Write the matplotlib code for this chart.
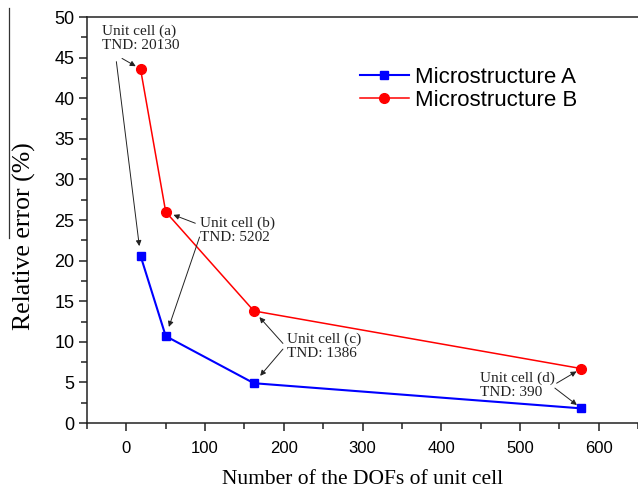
import numpy as np
import matplotlib
matplotlib.use("Agg")
import matplotlib.pyplot as plt
from matplotlib.ticker import MultipleLocator
from matplotlib.lines import Line2D

# data
dofs = [18, 50, 162, 578]
err_a = [20.6, 10.7, 4.9, 1.8]
err_b = [43.6, 26.0, 13.8, 6.7]

cell_names = ["(a)", "(b)", "(c)", "(d)"]
tnd = [20130, 5202, 1386, 390]
# where each label block sits (left x, centre y, data units)
text_pos = [(-31, 47.4), (94, 23.7), (204, 9.4), (449, 4.6)]
# arrow tails: (to B point, to A point)
tails_b = [(-5.5, 44.9), (87.6, 24.6), (198.9, 9.8), (546.6, 4.9)]
tails_a = [(-12.7, 44.5), (93.0, 22.9), (198.9, 9.1), (544.4, 4.3)]
shrink_b = [4, 6, 6, 4]
shrink_a = [7, 7, 7, 4]

serif = ["Liberation Serif", "DejaVu Serif"]
sans = ["Liberation Sans", "DejaVu Sans"]

fig = plt.figure(figsize=(6.38, 4.93), dpi=100)
ax = fig.add_axes([87/638, 1-423/493, (638-87)/638, (423-17)/493])

ax.plot(dofs, err_a, color="#0000FF", lw=1.5, marker="s", ms=6, label="Microstructure A", zorder=3)
ax.plot(dofs, err_b, color="#FF0000", lw=1.1, marker="o", ms=7, label="Microstructure B", zorder=3)

ax.set_xlim(-50, 650)
ax.set_ylim(0, 50)
ax.xaxis.set_major_locator(MultipleLocator(100))
ax.xaxis.set_minor_locator(MultipleLocator(50))
ax.yaxis.set_major_locator(MultipleLocator(5))
ax.yaxis.set_minor_locator(MultipleLocator(2.5))
ax.tick_params(which="major", direction="out", length=6, width=1.1, color="#222222")
ax.tick_params(which="minor", direction="out", length=4, width=1.1, color="#222222")
ax.tick_params(axis="x", labelsize=12, pad=7)
ax.tick_params(axis="y", labelsize=13, pad=3)
for lab in ax.get_xticklabels() + ax.get_yticklabels():
    lab.set_family(sans)

ax.spines["right"].set_visible(False)
for s in ["left", "bottom", "top"]:
    ax.spines[s].set_linewidth(1.1)
    ax.spines[s].set_color("#222222")

ax.set_xlabel("Number of the DOFs of unit cell", family=serif, fontsize=15.5, labelpad=10)
ax.set_ylabel("Relative error (%)", family=serif, fontsize=18.5)
ax.yaxis.set_label_coords(-0.092, 0.46)

# stray overline at the left edge
fig.add_artist(Line2D([9/638, 9/638], [1-8/493, 1-238/493], color="#333333", lw=0.9))

leg = ax.legend(loc="upper left", bbox_to_anchor=(0.495, 0.877), frameon=False,
                prop={"family": sans, "size": 16}, handlelength=2.2,
                handletextpad=0.3, labelspacing=0.1, borderpad=0, borderaxespad=0)

for i in range(len(dofs)):
    tx, ty = text_pos[i]
    ax.text(tx, ty, "Unit cell %s\nTND: %d" % (cell_names[i], tnd[i]), family=serif,
            fontsize=11, ha="left", va="center", linespacing=1.1, color="#222222")
    ax.annotate("", xy=(dofs[i], err_b[i]), xytext=tails_b[i],
                arrowprops=dict(arrowstyle="-|>", color="#222222", lw=0.7,
                                mutation_scale=8, shrinkA=0, shrinkB=shrink_b[i]))
    ax.annotate("", xy=(dofs[i], err_a[i]), xytext=tails_a[i],
                arrowprops=dict(arrowstyle="-|>", color="#222222", lw=0.7,
                                mutation_scale=8, shrinkA=0, shrinkB=shrink_a[i]))

fig.savefig("out.png", dpi=100)
